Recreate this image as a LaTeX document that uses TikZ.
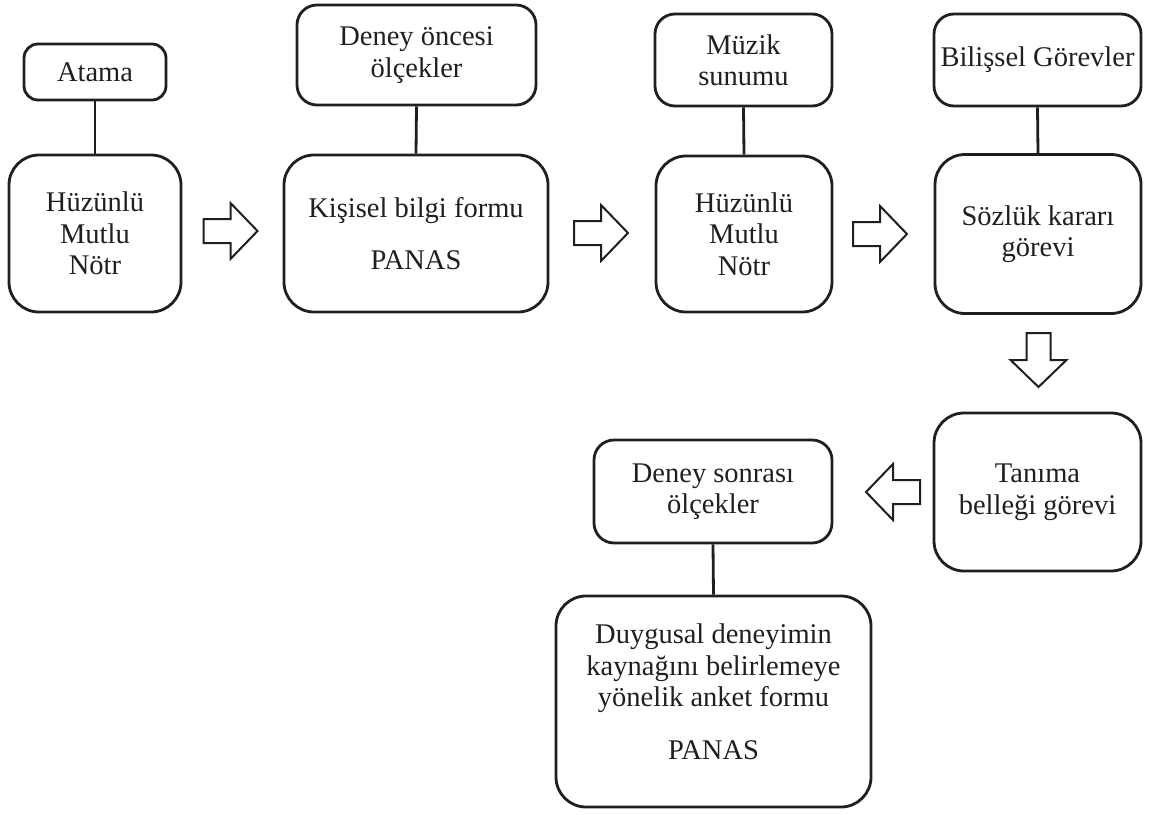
\documentclass[tikz,border=0pt]{standalone}
\usepackage{fontspec}
\setmainfont{Liberation Serif}
\tikzset{
  box/.style={draw=black!88, line width=2.8pt, rounded corners=30pt, align=center,
    inner sep=0pt, text=black!88, font=\fontsize{28.5}{31.5}\selectfont},
  topbox/.style={box, rounded corners=20pt},
  txt/.style={align=center, inner sep=0pt, text=black!88, font=\fontsize{28.5}{31.5}\selectfont},
  link/.style={draw=black!88, line width=2.8pt},
  arrowline/.style={draw=black!88, line width=2pt, fill=white, line join=miter},
  barrow/.pic={\draw[arrowline] (-27,-12) -- (0,-12) -- (0,-28) -- (27,0) -- (0,28) -- (0,12) -- (-27,12) -- cycle;}
}
\begin{document}
\begin{tikzpicture}[x=1pt,y=-1pt]
\useasboundingbox (0,0) rectangle (1156,814);

% top row small boxes
\node[topbox, rounded corners=14pt, minimum width=142pt, minimum height=56pt] (atama) at (95,72) {Atama};
\node[topbox, minimum width=239pt, minimum height=100pt] (dpre) at (416.5,55) {Deney öncesi\\ölçekler};
\node[topbox, minimum width=177pt, minimum height=92pt] (muz) at (743.5,60) {Müzik\\sunumu};
\node[topbox, minimum width=207pt, minimum height=92pt] (bil) at (1037.5,60) {Bilişsel Görevler};

% main row boxes
\node[box, minimum width=172pt, minimum height=157pt] (h1) at (95,233.5) {Hüzünlü\\Mutlu\\Nötr};
\node[box, minimum width=264pt, minimum height=157pt] (kis) at (416,233.5) {Kişisel bilgi formu\\[21pt]PANAS};
\node[box, minimum width=176pt, minimum height=156pt] (h2) at (744,234) {Hüzünlü\\Mutlu\\Nötr};
\node[box, minimum width=206pt, minimum height=159pt] (soz) at (1038,234) {Sözlük kararı\\görevi};

% lower boxes
\node[box, minimum width=207pt, minimum height=158pt] (tan) at (1037.5,492) {Tanıma\\belleği görevi};
\node[topbox, minimum width=238pt, minimum height=103pt] (dpost) at (713,491.5) {Deney sonrası\\ölçekler};
\node[box, minimum width=315pt, minimum height=211pt] (duy) at (713.5,701.5) {};
\node[txt] (duyt) at (713.5,691.5) {Duygusal deneyimin\\kaynağını belirlemeye\\yönelik anket formu\\[21pt]PANAS};

% connectors
\draw[link] (atama.south) -- (h1.north);
\draw[link] (dpre.south) -- (kis.north);
\draw[link] (muz.south) -- (h2.north);
\draw[link] (bil.south) -- (soz.north);
\draw[link] (dpost.south) -- (duy.north);

% block arrows
\pic at (230.5,231) {barrow};
\pic at (601,233) {barrow};
\pic at (880,234) {barrow};
\pic[rotate=-90] at (1038.5,360) {barrow};
\pic[rotate=180] at (893,492) {barrow};
\end{tikzpicture}
\end{document}
